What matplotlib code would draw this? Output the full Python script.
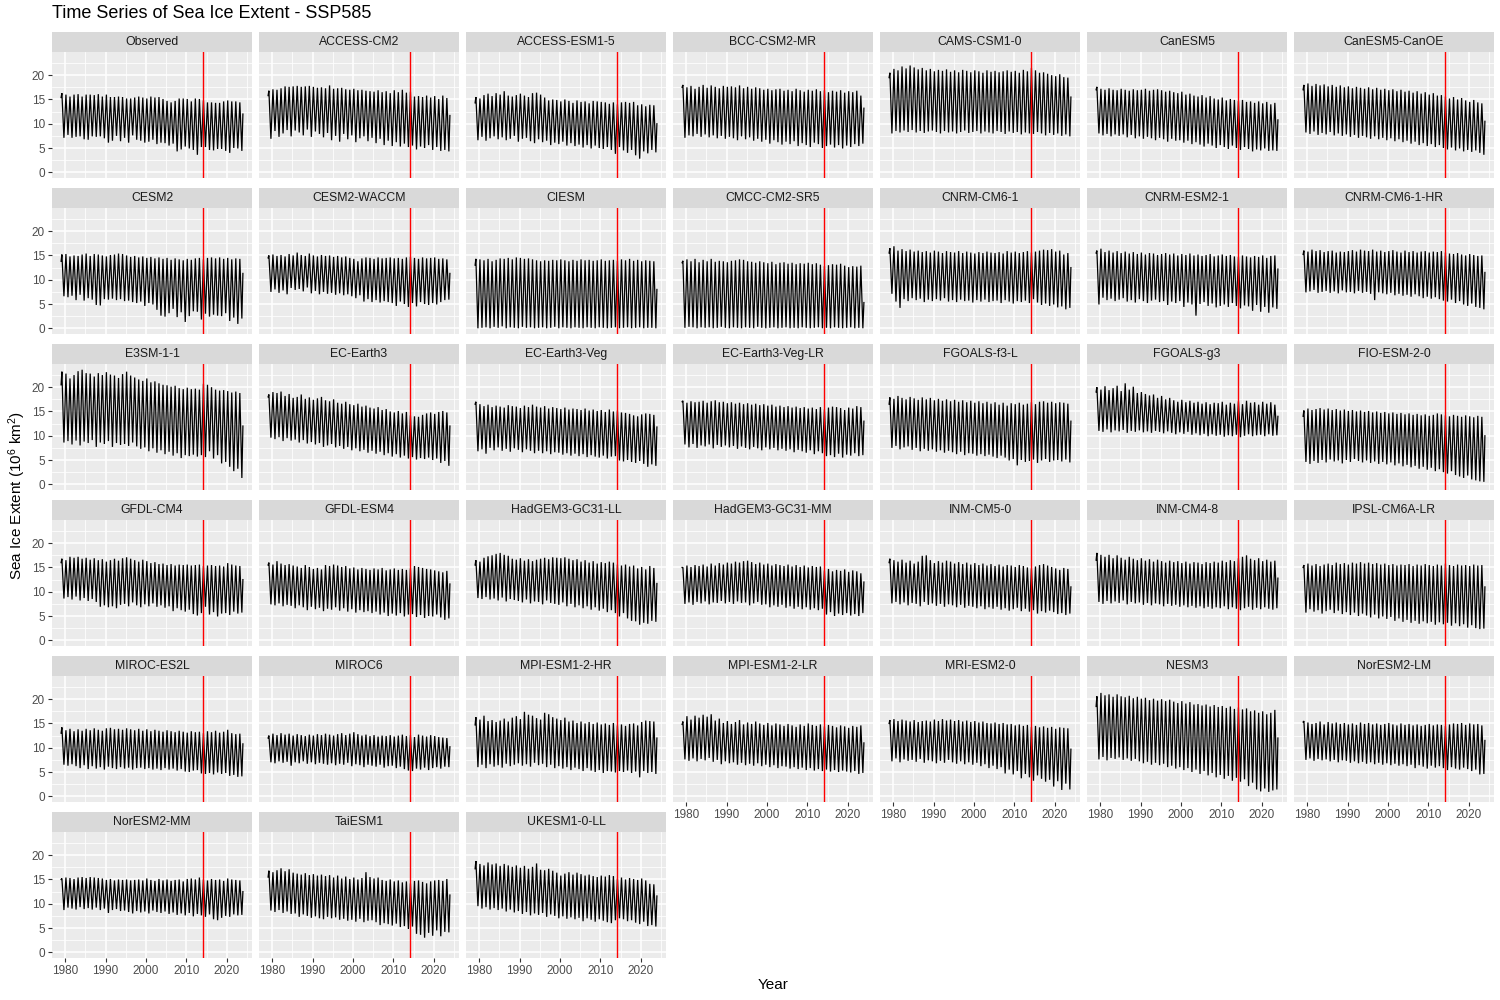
import matplotlib
matplotlib.use("Agg")
import matplotlib.pyplot as plt

plt.rcParams['font.family'] = ['Liberation Sans', 'DejaVu Sans']
plt.rcParams['mathtext.fontset'] = 'custom'
plt.rcParams['mathtext.rm'] = 'Liberation Sans'
plt.rcParams['mathtext.it'] = 'Liberation Sans:italic'

TITLE = "Time Series of Sea Ice Extent - SSP585"
YEARS = list(range(1979, 2024))
VLINE_YEAR = 2014
X_TICKS = [1980, 1990, 2000, 2010, 2020]
Y_TICKS = [0, 5, 10, 15, 20]

MODELS = ["Observed", "ACCESS-CM2", "ACCESS-ESM1-5", "BCC-CSM2-MR", "CAMS-CSM1-0", "CanESM5", "CanESM5-CanOE",
          "CESM2", "CESM2-WACCM", "CIESM", "CMCC-CM2-SR5", "CNRM-CM6-1", "CNRM-ESM2-1", "CNRM-CM6-1-HR",
          "E3SM-1-1", "EC-Earth3", "EC-Earth3-Veg", "EC-Earth3-Veg-LR", "FGOALS-f3-L", "FGOALS-g3", "FIO-ESM-2-0",
          "GFDL-CM4", "GFDL-ESM4", "HadGEM3-GC31-LL", "HadGEM3-GC31-MM", "INM-CM5-0", "INM-CM4-8", "IPSL-CM6A-LR",
          "MIROC-ES2L", "MIROC6", "MPI-ESM1-2-HR", "MPI-ESM1-2-LR", "MRI-ESM2-0", "NESM3", "NorESM2-LM",
          "NorESM2-MM", "TaiESM1", "UKESM1-0-LL"]

# January 1979 value and December 2023 value of each series
STARTS = [15.4, 15.8, 14.3, 17.5, 19.5, 17.0, 17.0, 13.8, 14.5, 13.0, 13.5, 15.5, 15.5, 15.2, 20.5, 18.0, 16.5,
          17.0, 16.5, 19.0, 14.0, 16.0, 15.5, 15.5, 15.0, 16.0, 16.5, 15.0, 13.0, 12.0, 14.7, 14.8, 15.0, 18.5,
          15.3, 15.0, 15.5, 17.2]
ENDS = [12.0, 11.7, 10.0, 13.2, 15.5, 10.8, 10.5, 11.3, 11.3, 8.0, 5.3, 12.5, 12.2, 11.5, 12.0, 12.0, 11.8,
        13.0, 13.0, 14.0, 10.0, 12.5, 11.6, 11.7, 12.0, 11.0, 12.8, 11.0, 10.8, 10.2, 12.0, 11.0, 9.7, 12.0,
        11.5, 12.5, 11.8, 11.6]

# Annual maxima (March) and minima (September), 1979-2023
OBS_MAX = [16.3,16.0,15.6,16.0,16.1, 15.6,16.0,16.0,15.9,16.1, 15.6,16.0,15.5,15.5,15.6, 15.5,15.2,15.2,15.4,15.6, 15.4,15.2,15.6,15.4,15.5, 15.1,14.7,14.4,14.7,15.2, 15.2,15.1,14.6,15.2,15.1, 14.8,14.4,14.4,14.3,14.3, 14.6,14.8,14.6,14.6,14.4]
OBS_MIN = [7.1,7.7,7.1,7.3,7.4, 6.8,6.7,7.4,7.3,7.4, 7.0,6.1,6.5,7.5,6.4, 7.1,6.1,7.6,6.7,6.5, 6.1,6.3,6.7,5.8,6.1, 6.0,5.5,5.9,4.3,4.7, 5.3,4.9,4.6,3.6,5.2, 5.2,4.6,4.5,4.8,4.8, 4.4,4.0,5.0,4.9,4.4]
ACC_CM2_MAX = [16.8,17.1,17.0,17.3,17.7, 17.6,17.7,17.8,17.6,17.7, 17.8,17.6,17.4,17.5,17.3, 17.9,17.2,17.3,17.4,17.1, 17.0,17.2,16.9,17.0,16.8, 16.7,16.6,16.9,16.5,16.7, 16.3,16.9,16.5,17.0,16.4, 16.6,15.6,15.7,15.5,15.8, 15.4,15.7,15.1,15.8,15.3]
ACC_CM2_MIN = [6.9,8.5,7.3,8.0,8.7, 7.4,8.6,8.2,7.6,8.8, 7.3,8.4,7.9,7.2,8.1, 6.6,7.5,6.3,7.9,6.8, 7.6,6.2,7.0,7.4,6.4, 7.1,6.0,6.9,5.6,6.5, 5.4,6.2,5.3,5.9,5.2, 5.5,4.7,5.3,5.0,5.6, 4.6,5.2,4.4,4.6,4.3]
ACC_ESM_MAX = [15.5,15.2,15.9,16.2,15.7, 16.3,16.0,16.7,15.8,15.6, 15.9,16.2,15.8,15.5,16.3, 16.4,16.0,15.4,14.8,15.0, 14.9,14.6,15.0,14.7,14.3, 14.8,14.5,14.6,14.2,14.7, 14.6,14.5,14.4,14.1,14.4, 14.0,14.4,14.5,14.3,14.5, 13.8,14.0,13.6,13.9,13.8]
ACC_ESM_MIN = [6.6,7.3,6.5,7.0,7.4, 6.8,7.2,6.6,6.9,7.5, 6.3,6.9,7.1,6.4,6.0, 6.8,6.2,6.5,5.6,6.1, 5.8,6.3,5.5,6.0,5.4, 5.7,5.1,5.6,4.9,5.5, 5.0,4.8,5.2,4.6,3.8, 5.2,4.5,4.0,4.6,3.5, 2.8,4.3,3.9,4.6,4.1]
BCC_MAX = [18.0,17.5,17.8,17.2,17.6, 18.0,17.4,17.9,17.6,17.3, 17.8,17.6,17.7,17.5,17.9, 17.3,17.6,17.2,17.5,17.3, 17.0,17.2,16.9,17.1,17.2, 16.8,17.0,16.7,17.2,16.9, 16.6,17.0,16.8,17.1,16.7, 16.9,16.5,16.8,16.6,16.9, 16.4,16.7,16.5,16.8,15.8]
BCC_MIN = [7.1,7.6,7.4,7.9,7.3, 7.8,7.2,7.6,7.0,7.5, 6.9,7.3,7.0,6.6,7.4, 6.8,7.2,6.5,6.9,6.3, 6.7,5.9,6.6,6.2,5.7, 6.3,5.8,6.4,5.4,6.0, 5.6,5.2,6.1,5.8,5.0, 5.4,5.7,5.1,5.6,4.9, 5.5,5.2,5.8,5.4,5.9]
CAMS_MAX = [20.5,21.3,21.0,21.8,21.4, 22.0,21.6,21.2,21.5,21.0, 21.3,20.8,21.1,20.9,21.2, 20.7,21.0,20.6,21.1,20.9, 20.6,21.0,20.8,20.5,21.0, 20.7,20.9,20.6,20.8,21.0, 20.7,20.9,20.5,21.1,20.8, 21.5,21.0,20.5,20.6,20.3, 20.0,19.8,20.2,19.6,19.5]
CAMS_MIN = [8.0,8.5,8.2,8.6,8.3, 8.7,8.2,8.5,8.1,8.4, 8.6,8.3,8.0,8.5,8.2, 8.4,8.0,8.3,8.6,8.1, 8.3,8.5,8.0,8.4,8.2, 8.0,8.5,8.3,7.9,8.4, 8.1,8.3,7.8,8.2,8.0, 7.9,8.3,8.0,7.6,8.1, 7.7,8.0,7.5,7.8,7.4]
CANESM5_MAX = [17.6,17.2,17.0,17.3,17.0, 16.9,17.2,17.0,16.8,17.1, 16.9,17.0,17.2,16.8,17.0, 17.1,16.9,16.6,16.8,16.5, 16.3,16.6,16.0,16.2,15.8, 15.6,15.9,15.4,15.7,15.2, 15.0,15.4,14.8,15.1,14.9, 14.7,14.9,14.5,14.6,14.3, 14.6,14.2,14.5,14.0,14.3]
CANESM5_MIN = [8.0,7.6,7.9,7.4,7.8, 7.5,7.8,7.2,7.7,7.0, 7.4,6.9,7.3,7.0,6.6, 7.1,6.8,6.3,6.9,6.5, 6.6,6.1,6.5,5.8,6.2, 5.7,5.3,5.9,5.5,5.0, 5.6,5.2,4.8,5.5,5.0, 4.6,5.2,4.8,4.3,4.7, 4.5,4.9,4.4,4.5,4.4]
CANOE_MAX = [18.0,18.3,17.8,18.2,17.9, 18.1,17.7,18.0,17.6,17.9, 17.5,17.7,17.3,17.6,17.4, 17.2,17.5,17.1,17.4,17.0, 17.2,16.9,17.1,16.7,17.0, 16.6,16.8,16.4,16.7,16.2, 16.5,16.0,16.3,15.8,15.9, 15.6,15.2,15.5,15.0,15.3, 14.8,14.5,14.9,14.4,14.2]
CANOE_MIN = [8.2,7.9,8.4,7.7,8.1, 7.8,8.3,7.6,8.0,7.5, 7.8,7.3,7.7,7.1,7.5, 7.2,6.9,7.4,6.8,7.1, 6.6,7.0,6.4,6.8,6.2, 6.5,5.9,6.3,5.6,6.0, 5.4,5.8,5.2,5.6,5.0, 4.7,5.1,4.5,4.9,4.3, 4.6,4.2,4.5,4.0,3.6]
CESM2_MAX = [15.2,15.3,14.8,15.0,14.9, 15.2,15.4,14.9,15.3,15.2, 15.0,14.8,15.1,15.2,15.4, 15.3,15.0,14.7,14.9,14.6, 14.8,14.5,14.7,14.4,14.6, 14.3,14.5,14.1,14.4,14.2, 14.0,14.3,14.1,14.4,14.5, 14.2,14.5,14.6,14.4,14.6, 14.3,14.5,14.2,14.4,14.3]
CESM2_MIN = [6.6,6.4,6.7,5.8,6.9, 5.7,6.2,5.9,4.8,4.7, 6.0,5.9,6.1,5.8,6.0, 5.6,5.7,5.4,5.2,5.5, 4.6,5.2,4.9,3.8,2.6, 2.4,3.1,4.0,2.3,3.3, 1.3,2.5,3.5,3.4,1.8, 3.0,2.4,2.8,2.6,2.5, 3.1,1.5,2.2,0.9,2.0]
CESM2W_MAX = [15.0,15.2,14.9,15.1,14.8, 15.3,15.0,15.6,15.1,14.9, 15.4,15.0,14.8,15.1,14.9, 15.0,14.7,14.9,14.6,14.8, 14.5,14.3,13.8,14.4,14.6, 14.5,14.3,14.6,14.4,14.5, 14.6,14.4,14.5,14.3,14.6, 14.7,14.5,14.3,14.6,14.4, 14.5,14.6,14.3,14.4,14.2]
CESM2W_MIN = [7.5,8.0,7.3,7.8,7.0, 8.3,7.9,8.1,7.6,8.4, 7.2,7.7,7.0,7.5,7.1, 7.3,6.9,7.2,6.8,7.0, 6.6,6.2,6.8,5.5,6.0, 5.4,5.8,5.3,5.6,5.4, 5.2,4.6,5.5,5.0,4.4, 5.2,4.5,5.4,5.0,4.8, 5.2,4.9,5.4,5.8,5.9]
CIESM_MAX = [14.3,14.2,14.0,14.3,13.8, 14.1,14.4,14.3,14.5,14.2, 14.6,14.5,14.3,14.4,14.2, 14.0,13.8,14.0,13.9,14.1, 14.0,14.2,14.0,13.8,14.1, 13.9,14.2,14.0,14.1,13.9, 14.0,14.2,13.9,14.0,14.1, 13.9,14.2,14.0,14.3,13.9, 14.1,13.8,14.0,13.9,13.8]
CIESM_MIN = [0.0,0.1,0.2,0.0,0.3, 0.1,0.4,0.0,0.2,0.1, 0.0,0.3,0.1,0.2,0.0, 0.1,0.2,0.0,0.1,0.3, 0.0,0.2,0.1,0.0,0.2, 0.1,0.0,0.2,0.1,0.0, 0.2,0.1,0.0,0.1,0.2, 0.0,0.1,0.2,0.0,0.1, 0.2,0.0,0.1,0.1,0.0]
CMCC_MAX = [13.9,14.2,13.8,14.3,13.6, 14.1,13.8,14.3,13.7,13.9, 13.8,13.6,13.9,14.0,14.2, 14.1,13.8,13.7,13.5,13.8, 13.6,13.4,13.7,13.2,13.5, 13.6,13.3,13.5,13.2,13.4, 13.3,13.5,13.2,13.4,13.1, 12.8,13.0,13.2,13.1,13.3, 12.9,12.6,12.8,12.7,12.9]
CMCC_MIN = [0.1,0.3,0.2,0.0,0.2, 0.1,0.2,0.0,0.1,0.3, 0.1,0.0,0.2,0.1,0.0, 0.2,0.1,0.0,0.3,0.1, 0.0,0.1,0.2,0.0,0.1, 0.2,0.0,0.1,0.0,0.2, 0.1,0.0,0.1,0.2,0.0, 0.1,0.0,0.2,0.1,0.0, 0.1,0.2,0.0,0.1,0.0]
CNRM_CM6_MAX = [16.5,16.9,16.0,16.3,15.9, 16.2,15.8,16.0,15.7,15.9, 15.6,16.0,15.8,15.5,15.9, 15.7,15.6,15.9,15.5,15.8, 15.6,15.4,15.7,15.5,15.8, 15.6,15.5,15.7,15.4,15.9, 15.6,15.8,15.5,15.7,15.9, 15.6,15.8,16.0,16.2,16.1, 16.3,15.8,16.0,15.2,15.5]
CNRM_CM6_MIN = [7.1,5.5,4.2,6.0,5.6, 6.2,5.8,6.1,5.4,5.9, 5.6,6.0,5.7,6.2,5.5, 5.8,5.4,5.9,5.6,5.7, 5.3,5.8,5.5,5.9,5.4, 5.6,5.7,5.2,5.8,5.5, 5.1,5.6,5.4,5.7,5.2, 6.0,5.3,4.8,5.1,4.6, 4.9,4.3,4.5,3.9,4.2]
CNRM_ESM_MAX = [16.0,16.4,15.7,16.0,15.6, 15.9,15.5,15.8,15.4,15.7, 15.3,15.6,15.2,15.5,15.4, 15.1,15.3,15.5,15.2,15.4, 15.0,15.3,15.1,15.4,15.0, 15.2,14.9,15.1,15.3,14.8, 15.0,15.2,14.9,15.1,14.8, 14.7,15.0,14.8,14.6,14.9, 14.7,15.0,14.5,14.9,15.0]
CNRM_ESM_MIN = [4.9,6.3,5.8,6.1,5.6, 5.9,6.2,5.5,5.8,5.3, 6.0,5.6,5.2,5.7,5.9, 5.4,5.6,4.8,5.5,5.2, 5.6,4.4,5.3,4.9,2.6, 5.0,5.4,4.6,5.1,4.3, 4.6,4.9,4.4,5.2,4.6, 4.1,4.7,4.5,3.6,4.8, 3.4,4.4,3.2,4.3,4.0]
CNRM_HR_MAX = [16.0,15.8,16.2,15.9,16.1, 15.7,15.9,16.0,15.6,15.8, 15.7,15.9,16.1,15.8,16.2, 16.0,15.9,16.2,15.8,16.0, 15.7,15.9,16.1,15.8,15.6, 16.0,15.7,15.9,15.6,15.8, 15.9,15.6,15.8,15.7,15.9, 15.6,15.4,15.3,15.5,15.2, 15.0,15.3,15.1,14.9,15.0]
CNRM_HR_MIN = [7.4,7.6,7.9,7.3,7.5, 7.7,7.3,7.6,7.2,7.8, 7.4,7.5,7.2,7.7,7.3, 7.5,7.1,5.8,7.4,7.2, 7.0,7.3,6.8,7.1,6.7, 6.9,6.5,7.0,6.6,6.2, 6.5,6.1,6.4,6.0,5.7, 5.5,5.9,5.2,5.6,4.9, 4.6,5.1,4.4,4.2,3.9]
E3SM_MAX = [23.2,22.8,21.8,22.5,23.3, 23.6,22.9,22.8,22.2,22.9, 22.5,23.1,22.6,22.4,21.9, 22.7,23.2,22.4,22.0,21.6, 21.3,21.8,21.0,21.2,20.8, 20.5,20.4,20.1,20.3,19.8, 19.6,19.9,19.6,19.7,19.5, 20.7,20.5,20.0,19.5,19.3, 19.4,19.2,18.9,19.1,18.8]
E3SM_MIN = [8.6,8.9,8.2,9.0,8.0, 8.8,8.5,9.1,7.7,8.6, 8.3,8.9,7.7,8.5,8.1, 8.3,7.9,8.6,7.8,7.3, 7.6,6.8,7.4,6.5,7.0, 6.2,6.7,5.9,6.4,5.4, 6.0,5.8,6.1,5.7,6.0, 5.6,6.8,5.3,6.0,4.3, 4.6,3.6,2.7,3.2,1.3]
ECE3_MAX = [18.5,19.0,18.8,19.1,18.2, 18.6,17.8,18.0,18.5,17.6, 17.9,17.4,17.7,18.0,17.3, 17.1,17.5,16.8,16.6,17.0, 16.5,16.3,16.6,16.0,16.2, 15.8,15.6,15.9,15.3,15.5, 15.0,14.8,15.1,14.6,14.9, 14.2,14.0,13.9,14.3,14.6, 14.8,14.5,14.9,15.1,14.8]
ECE3_MIN = [9.6,9.3,9.7,8.9,9.5, 9.0,9.2,8.6,9.1,8.4, 8.7,8.2,8.5,7.7,8.0, 8.3,7.6,7.9,7.3,7.7, 7.0,7.4,6.8,7.1,6.5, 6.9,6.3,6.7,6.0,6.4, 5.7,6.2,5.5,5.9,5.3, 5.6,5.1,5.4,5.2,5.5, 5.0,5.3,4.4,4.8,3.8]
ECV_MAX = [17.0,16.5,16.1,16.4,15.9, 16.2,16.0,15.8,16.3,16.1, 16.0,15.7,16.2,15.9,16.4, 16.0,15.8,16.1,15.6,15.9, 15.7,15.5,15.8,15.4,15.6, 15.5,15.3,15.6,15.2,15.4, 15.1,15.3,14.9,15.4,15.0, 15.2,14.8,14.7,14.5,14.2, 14.0,14.4,14.6,14.5,14.3]
ECV_MIN = [6.8,7.2,6.3,7.5,7.0, 7.6,6.9,7.3,6.7,7.4, 7.1,6.6,7.2,6.9,6.4, 6.9,6.4,6.8,6.2,6.6, 6.5,6.1,6.4,5.9,6.3, 5.8,6.2,5.6,6.0,5.7, 5.5,5.9,5.3,5.7,5.8, 4.9,4.7,5.0,4.6,4.4, 4.8,4.2,3.6,4.1,3.8]
ECVLR_MAX = [17.2,16.8,17.1,16.9,17.0, 17.2,16.8,17.1,17.3,16.9, 17.0,16.7,16.9,16.6,16.8, 16.5,16.7,16.4,16.6,16.3, 16.5,16.2,16.4,16.0,16.2, 15.9,16.1,15.8,16.0,15.7, 15.9,15.6,15.8,15.5,15.9, 15.4,15.8,16.0,15.9,15.7, 15.3,15.8,15.6,16.1,15.9]
ECVLR_MIN = [8.2,7.6,8.3,7.5,8.0, 7.8,8.2,7.4,8.1,7.7, 8.0,7.6,7.9,7.3,7.8, 7.5,7.2,7.7,7.4,7.0, 7.6,7.2,7.5,7.0,7.3, 6.9,7.2,6.6,7.1,6.8, 6.5,7.0,6.2,6.8,6.4, 5.8,6.0,5.6,6.3,5.5, 6.1,5.9,6.4,5.8,6.0]
FGF3_MAX = [17.9,17.6,18.2,17.8,17.5, 18.0,17.7,17.4,17.9,17.5, 17.8,17.3,17.6,17.2,17.5, 17.1,17.4,17.0,17.3,16.9, 17.2,16.8,17.1,16.7,17.0, 16.6,16.9,16.4,16.8,16.2, 16.7,16.5,16.8,16.4,16.6, 16.9,16.5,17.0,17.1,16.8, 17.0,16.7,16.9,16.8,16.6]
FGF3_MIN = [7.5,7.9,7.2,7.6,7.8, 7.1,7.5,6.8,7.3,6.9, 7.2,6.7,7.0,6.5,6.9, 6.6,6.2,6.7,6.0,6.4, 6.3,5.9,6.2,5.8,6.1, 5.7,5.4,5.9,5.5,4.9, 5.2,3.9,5.0,4.6,4.8, 5.1,4.4,4.9,5.2,4.6, 4.9,5.0,4.7,5.1,4.5]
FGG3_MAX = [20.0,19.5,20.2,19.4,19.8, 20.3,19.2,20.8,19.5,20.1, 18.8,19.0,18.6,18.3,18.5, 17.8,18.2,17.5,17.8,17.3, 17.0,17.4,16.9,17.2,16.8, 17.0,16.6,16.9,16.5,16.8, 16.7,17.0,16.4,16.8,16.6, 17.1,16.5,17.2,16.8,16.9, 16.4,17.0,16.6,16.9,16.4]
FGG3_MIN = [11.0,10.8,11.3,10.7,11.1, 10.9,11.2,10.6,11.0,10.8, 11.1,10.7,10.9,10.6,11.0, 10.8,10.5,10.9,10.6,10.3, 10.7,10.4,10.8,10.2,10.5, 10.1,10.4,9.9,10.3,10.0, 10.2,9.8,10.1,9.9,10.2, 9.7,10.0,10.3,9.9,10.1, 10.2,9.9,10.3,10.0,10.1]
FIO_MAX = [15.2,15.6,15.3,15.5,15.7, 15.4,15.6,15.3,15.5,15.2, 15.4,15.1,15.3,15.0,15.2, 14.9,15.1,14.8,15.0,14.7, 14.9,14.6,14.8,14.5,14.7, 14.4,14.6,14.3,14.5,14.2, 14.4,14.1,14.3,14.6,14.4, 14.2,14.0,14.3,14.1,13.9, 14.2,14.0,13.8,14.1,13.9]
FIO_MIN = [4.6,4.2,4.8,4.4,5.0, 4.5,5.1,4.7,4.9,4.3, 5.0,4.6,5.2,4.8,4.5, 4.9,4.4,4.7,4.2,4.6, 4.1,4.5,3.9,4.3,3.7, 4.0,3.5,3.8,3.2,3.6, 3.0,3.4,2.7,3.1,2.5, 2.2,2.7,1.9,1.6,1.3, 1.8,1.0,0.8,0.6,0.5]
GFDLCM4_MAX = [16.8,16.5,17.2,17.0,17.2, 16.8,17.0,16.6,16.9,16.5, 16.7,16.2,16.5,16.8,16.4, 16.9,17.1,16.8,16.5,16.2, 16.6,16.3,15.9,16.1,15.7, 15.8,15.5,15.7,15.4,15.6, 15.5,15.6,15.4,15.5,15.6, 15.3,15.4,15.5,15.3,15.4, 15.2,15.9,15.6,15.4,15.3]
GFDLCM4_MIN = [8.6,8.9,8.4,9.0,8.2, 8.7,8.1,8.5,7.9,6.9, 7.2,6.8,7.0,6.6,7.3, 7.5,7.0,7.8,7.2,6.8, 7.4,7.0,7.6,6.9,7.2, 6.7,7.0,6.0,6.6,6.2, 5.9,6.3,5.4,5.1,5.6, 6.9,5.3,5.8,4.9,5.5, 5.6,5.2,5.9,5.5,5.7]
GFDLESM4_MAX = [16.0,15.6,16.3,15.8,15.5, 15.7,15.4,15.2,14.9,15.5, 15.1,14.7,14.9,14.6,15.5, 15.3,15.6,15.4,15.1,15.3, 14.8,15.0,14.6,14.9,14.7, 14.5,14.8,14.6,14.9,14.4, 14.6,14.8,14.5,14.7,14.5, 14.8,15.3,15.1,14.9,14.7, 14.6,14.4,14.2,14.0,14.3]
GFDLESM4_MIN = [7.4,7.2,7.6,7.0,7.3, 7.1,6.6,7.2,6.8,6.2, 6.9,6.4,6.7,6.0,6.5, 6.3,6.8,6.1,6.6,5.9, 6.4,5.7,6.2,5.8,6.0, 5.6,5.9,5.3,5.7,5.0, 5.5,5.1,5.6,4.9,5.3, 5.4,4.8,5.2,4.6,5.0, 4.9,5.3,4.7,4.2,4.5]
HGLL_MAX = [16.5,16.2,17.0,17.3,17.5, 17.8,18.0,17.6,17.4,16.8, 16.6,16.9,16.4,16.7,16.3, 16.6,16.8,17.0,16.7,17.1, 17.0,16.9,17.1,16.8,16.5, 16.7,16.2,16.5,16.0,16.3, 15.8,16.1,15.9,16.2,16.0, 15.6,15.4,15.6,15.2,15.4, 14.8,15.1,14.6,15.3,14.9]
HGLL_MIN = [8.7,8.5,8.9,8.4,8.6, 8.2,8.8,8.0,8.5,8.3, 8.1,7.8,8.4,7.6,8.0, 7.9,7.4,8.2,7.7,7.5, 7.3,7.8,7.0,7.5,6.8, 7.2,6.6,7.0,6.3,6.8, 6.1,6.5,5.8,6.2,5.6, 4.9,5.6,4.5,4.0,3.9, 3.2,3.6,3.4,4.0,3.8]
HGMM_MAX = [15.0,15.4,15.1,15.5,15.3, 15.6,15.2,15.8,15.4,15.9, 15.6,16.0,15.8,16.2,16.0, 16.3,16.4,16.1,15.7,16.0, 15.6,15.8,15.4,15.7,15.5, 15.3,15.6,15.2,15.5,15.1, 15.4,15.0,15.3,15.1,15.2, 14.4,14.7,14.2,14.5,14.3, 14.6,14.1,14.4,14.2,13.8]
HGMM_MIN = [7.5,7.8,7.3,7.9,7.6, 8.0,7.4,7.8,7.7,8.1, 7.6,7.9,7.5,8.0,7.7, 7.8,7.2,7.6,7.9,7.3, 7.4,6.8,7.2,6.9,7.3, 6.7,7.0,6.5,6.9,6.4, 6.8,6.3,6.6,6.2,6.5, 5.3,5.8,5.0,5.5,5.2, 5.6,5.1,5.4,5.0,5.6]
INMCM5_MAX = [16.8,16.5,16.2,16.6,16.0, 16.4,15.8,16.2,17.4,17.5, 16.5,15.9,16.3,16.0,16.4, 16.2,15.8,16.1,15.7,16.0, 15.6,15.9,15.5,15.8,15.4, 15.7,15.3,15.6,15.2,15.5, 15.4,15.1,15.5,15.3,15.0, 14.8,15.2,15.5,15.7,15.4, 15.1,14.8,14.5,14.9,14.7]
INMCM5_MIN = [7.6,7.9,7.4,7.8,7.2, 7.7,7.5,7.0,7.9,7.3, 7.6,7.1,7.5,6.9,7.4, 7.2,6.8,7.3,6.7,7.1, 6.9,6.6,7.0,6.4,6.8, 6.5,6.9,6.3,6.6,6.1, 6.4,6.7,6.0,6.5,5.9, 6.2,5.5,6.0,5.7,6.1, 5.8,5.4,5.6,5.2,5.5]
INMCM48_MAX = [18.0,17.6,17.2,17.6,16.9, 17.5,17.0,16.6,17.2,16.8, 16.5,16.9,16.4,16.7,16.2, 16.6,16.3,16.0,16.4,16.1, 16.3,15.9,16.2,15.8,16.1, 16.0,15.7,16.1,15.9,16.2, 16.0,16.4,16.1,16.5,16.3, 16.9,17.2,17.5,16.8,16.5, 16.9,16.3,16.6,16.2,16.4]
INMCM48_MIN = [7.9,7.5,8.1,7.6,8.0, 7.7,8.2,7.4,7.9,7.6, 7.8,7.3,7.7,7.2,7.6, 7.4,7.0,7.5,7.1,7.3, 6.9,7.2,6.8,7.1,6.7, 7.0,6.6,6.9,6.5,6.8, 6.6,7.0,6.4,6.8,6.5, 6.2,6.6,6.9,6.3,6.7, 6.4,6.8,6.5,6.3,6.6]
IPSL_MAX = [15.5,15.8,15.4,15.7,15.3, 15.6,15.8,15.5,16.0,15.7, 15.9,15.6,16.0,15.8,16.1, 15.8,16.0,15.7,15.9,15.6, 15.8,15.5,15.7,15.4,15.6, 15.5,15.7,15.3,15.6,15.4, 15.7,15.5,15.3,15.6,15.4, 15.8,15.5,15.3,15.6,15.4, 15.5,15.3,15.6,15.4,15.5]
IPSL_MIN = [5.7,6.4,5.9,6.2,5.5, 6.0,6.3,5.6,6.1,5.4, 5.8,5.2,5.7,5.0,5.5, 5.1,4.7,5.3,4.5,4.9, 4.4,4.8,4.0,4.5,3.8, 4.2,3.6,4.0,3.4,3.9, 3.5,3.8,3.2,3.7,3.3, 3.6,3.0,3.5,2.9,3.3, 2.6,3.1,2.5,2.3,2.4]
MIROCES_MAX = [14.2,13.6,13.9,13.4,13.8, 13.5,13.9,13.6,14.0,13.7, 13.5,14.0,14.1,13.8,13.9, 13.7,14.0,13.8,13.6,13.9, 13.5,13.8,13.4,13.7,13.5, 13.3,13.6,13.4,13.2,13.5, 13.3,13.1,13.4,13.2,13.3, 13.0,13.4,13.2,13.5,13.1, 13.3,13.7,13.0,12.8,12.9]
MIROCES_MIN = [6.5,6.3,6.6,6.2,5.8, 6.4,5.6,6.2,5.7,6.0, 5.5,6.1,5.8,5.6,6.0, 5.7,5.9,5.5,5.8,5.9, 5.6,5.8,5.5,5.7,5.4, 5.8,5.5,5.7,5.3,5.6, 5.1,5.0,5.3,5.4,4.7, 4.6,4.8,4.5,4.9,4.6, 4.8,4.2,4.4,4.0,4.1]
MIROC6_MAX = [12.5,12.9,12.6,13.0,12.7, 12.9,12.5,12.8,12.6,12.4, 12.7,12.5,12.8,12.6,12.9, 12.7,12.5,12.8,13.0,12.6, 12.9,13.2,12.8,12.5,12.7, 12.4,12.6,12.3,12.5,12.4, 12.6,12.3,12.5,12.7,12.4, 12.6,12.2,12.7,12.5,12.3, 12.6,12.4,12.2,12.1,12.0]
MIROC6_MIN = [7.0,6.8,7.2,6.9,7.1, 6.3,7.0,6.8,7.2,6.7, 7.0,6.6,6.9,6.7,6.5, 6.8,6.4,6.7,6.5,6.9, 6.2,6.6,6.4,6.0,6.5, 6.3,6.1,6.5,5.9,6.2, 6.3,5.8,6.1,5.6,5.3, 5.2,5.7,5.5,5.9,5.4, 5.8,6.0,5.7,6.1,6.0]
MPIHR_MAX = [16.3,15.8,16.6,15.5,15.7, 15.3,15.6,16.0,15.4,16.2, 16.5,15.9,17.4,16.8,16.6, 16.1,15.8,17.2,16.9,16.3, 16.0,15.7,16.2,15.4,15.6, 15.1,15.4,15.0,15.3,14.9, 15.2,14.8,15.0,14.7,15.1, 14.6,14.8,14.5,14.9,15.0, 14.6,15.3,15.6,15.5,15.4]
MPIHR_MIN = [6.0,6.5,5.8,6.6,6.1, 6.4,5.9,6.7,6.2,6.5, 6.8,6.3,6.6,6.1,6.9, 6.4,6.7,6.0,6.5,5.8, 6.2,5.7,6.0,5.4,5.9, 5.6,5.2,5.8,5.3,5.0, 5.4,4.8,5.2,5.1,4.9, 5.2,5.0,5.3,4.8,5.1, 3.9,5.2,4.8,5.0,4.6]
MPILR_MAX = [15.4,16.5,15.8,16.6,16.2, 16.8,16.4,16.9,15.6,16.0, 15.1,15.5,14.9,15.3,15.7, 14.8,15.2,14.9,15.4,15.0, 14.7,15.1,14.6,15.0,14.8, 14.5,14.9,14.6,14.3,14.8, 14.5,15.0,14.7,14.5,14.8, 14.4,14.7,14.5,14.2,14.6, 14.4,14.1,14.5,14.3,14.6]
MPILR_MIN = [7.6,7.3,7.8,7.2,7.7, 7.4,7.9,7.1,7.5,6.6, 7.2,6.8,7.0,6.5,6.9, 6.4,6.7,6.3,6.8,6.2, 6.5,6.0,6.4,5.8,6.2, 6.1,5.7,6.0,5.6,5.9, 5.4,5.8,5.3,5.6,5.2, 5.5,5.1,5.4,5.0,5.3, 5.1,4.9,5.2,4.6,4.8]
MRI_MAX = [15.7,15.9,15.5,15.8,15.6, 15.4,15.7,15.3,15.5,15.6, 15.4,15.8,15.5,15.9,15.6, 15.8,15.5,15.7,15.4,15.6, 15.3,15.5,15.2,15.4,15.1, 15.0,15.2,14.9,15.1,14.8, 14.9,14.6,14.8,14.5,14.7, 14.3,14.5,14.2,14.4,14.1, 14.3,13.9,14.2,14.1,14.0]
MRI_MIN = [7.2,7.8,7.0,7.6,7.3, 7.5,7.1,7.7,6.9,7.4, 7.2,6.8,7.3,6.9,7.5, 7.0,6.7,7.2,6.6,7.0, 6.5,6.9,6.2,6.6,5.8, 6.3,5.6,6.0,4.7,5.5, 4.5,5.2,3.7,4.6,3.9, 3.2,4.3,3.6,3.0,3.4, 2.0,3.1,1.3,2.6,1.4]
NESM3_MAX = [20.6,21.3,20.8,21.0,20.5, 21.0,20.6,20.4,20.7,20.2, 20.5,20.1,20.3,19.8,20.1, 19.7,20.0,19.6,19.9,19.5, 19.2,19.6,19.1,19.4,18.9, 19.0,18.7,18.9,18.5,18.8, 18.4,18.6,18.2,18.5,18.0, 18.3,17.9,18.1,17.5,17.7, 17.2,17.5,16.9,17.2,17.8]
NESM3_MIN = [7.6,8.1,7.4,7.9,7.7, 8.0,7.5,7.8,7.3,7.7, 7.2,6.8,7.1,6.5,6.9, 6.4,6.7,6.0,6.3,5.7, 6.0,5.4,5.8,5.0,5.5, 4.6,5.2,4.3,4.8,3.9, 4.4,3.6,4.2,3.2,3.8, 3.0,3.5,2.1,2.8,1.4, 1.0,1.6,0.9,1.2,1.4]
NORLM_MAX = [15.5,15.2,14.9,15.1,15.4, 14.8,15.3,15.0,15.2,14.9, 15.1,14.8,15.0,14.7,15.2, 14.9,15.1,14.8,15.0,14.7, 14.9,15.1,14.8,14.6,15.0, 14.7,14.9,14.6,14.8,14.5, 14.7,14.9,14.6,14.8,14.7, 14.5,14.8,15.0,14.9,15.1, 14.7,15.0,14.8,14.9,14.6]
NORLM_MIN = [7.5,7.8,7.3,7.7,7.4, 7.6,7.2,7.5,7.0,7.4, 7.3,6.9,7.2,6.8,7.1, 6.7,7.0,6.6,6.9,6.5, 6.8,6.4,6.7,6.3,6.6, 6.2,6.5,5.8,6.4,6.1, 5.7,6.3,5.9,6.2,5.8, 5.4,6.0,5.7,5.5,5.9, 5.6,5.2,5.5,4.5,4.6]
NORMM_MAX = [15.2,15.4,15.3,15.1,15.4, 15.5,15.3,15.5,15.4,15.3, 15.2,14.9,15.1,14.8,15.0, 14.9,15.0,14.8,14.9,15.0, 14.8,15.2,14.9,14.7,15.1, 14.8,15.0,14.7,14.9,15.0, 14.6,15.1,15.2,15.0,15.4, 15.0,14.8,15.1,14.9,15.0, 14.7,15.2,15.0,14.9,14.8]
NORMM_MIN = [8.7,9.2,9.0,8.8,9.3, 8.9,9.1,8.8,9.2,8.7, 9.0,8.1,8.7,8.9,8.5, 8.6,8.3,8.0,8.5,8.2, 8.4,8.0,8.6,8.3,8.1, 8.4,7.9,8.2,7.7,8.0, 7.6,8.1,7.4,7.9,7.6, 7.3,7.8,6.8,6.6,7.1, 7.5,7.3,7.8,7.6,7.7]
TAI_MAX = [16.8,16.5,16.9,17.3,16.7, 17.1,16.4,16.2,16.0,16.3, 15.9,16.1,15.8,16.0,15.7, 15.9,15.4,15.8,15.2,15.6, 15.1,15.4,15.0,15.3,16.5, 15.5,15.2,15.4,14.9,14.7, 15.0,14.6,14.8,14.4,14.6, 14.2,14.7,14.8,14.5,14.2, 14.6,14.8,14.9,14.7,15.1]
TAI_MIN = [8.6,8.3,8.7,8.1,8.4, 7.9,8.0,7.3,7.8,7.5, 7.1,7.4,7.0,6.8,7.3, 7.0,7.2,6.7,6.9,6.5, 6.7,6.3,6.9,6.2,6.5, 6.6,6.2,5.6,6.0,5.8, 5.5,5.9,5.2,5.4,4.8, 5.3,3.8,3.6,3.0,4.0, 3.4,4.5,3.3,4.2,4.1]
UK_MAX = [18.8,18.2,17.9,18.5,18.1, 18.3,17.8,18.2,17.9,17.6, 17.9,17.4,17.8,17.2,17.6, 18.3,17.0,16.9,17.2,16.8, 16.4,15.8,16.2,16.5,16.0, 16.4,16.1,15.8,16.0,15.7, 15.5,15.8,15.6,15.9,15.7, 15.2,15.4,15.0,15.3,15.1, 14.9,15.2,14.8,14.1,14.0]
UK_MIN = [9.5,9.0,9.3,8.8,9.1, 8.7,9.0,8.4,8.8,8.2, 8.5,7.9,8.3,7.6,8.0, 7.7,8.1,7.3,7.8,7.5, 7.0,7.4,6.9,7.2,6.8, 7.1,6.4,7.0,6.7,6.3, 6.8,6.5,6.2,6.0,6.6, 7.0,6.8,6.4,6.6,6.1, 5.8,6.3,5.4,5.6,5.3]

SERIES_MAX = [OBS_MAX, ACC_CM2_MAX, ACC_ESM_MAX, BCC_MAX, CAMS_MAX, CANESM5_MAX, CANOE_MAX, CESM2_MAX,
              CESM2W_MAX, CIESM_MAX, CMCC_MAX, CNRM_CM6_MAX, CNRM_ESM_MAX, CNRM_HR_MAX, E3SM_MAX, ECE3_MAX,
              ECV_MAX, ECVLR_MAX, FGF3_MAX, FGG3_MAX, FIO_MAX, GFDLCM4_MAX, GFDLESM4_MAX, HGLL_MAX, HGMM_MAX,
              INMCM5_MAX, INMCM48_MAX, IPSL_MAX, MIROCES_MAX, MIROC6_MAX, MPIHR_MAX, MPILR_MAX, MRI_MAX,
              NESM3_MAX, NORLM_MAX, NORMM_MAX, TAI_MAX, UK_MAX]
SERIES_MIN = [OBS_MIN, ACC_CM2_MIN, ACC_ESM_MIN, BCC_MIN, CAMS_MIN, CANESM5_MIN, CANOE_MIN, CESM2_MIN,
              CESM2W_MIN, CIESM_MIN, CMCC_MIN, CNRM_CM6_MIN, CNRM_ESM_MIN, CNRM_HR_MIN, E3SM_MIN, ECE3_MIN,
              ECV_MIN, ECVLR_MIN, FGF3_MIN, FGG3_MIN, FIO_MIN, GFDLCM4_MIN, GFDLESM4_MIN, HGLL_MIN, HGMM_MIN,
              INMCM5_MIN, INMCM48_MIN, IPSL_MIN, MIROCES_MIN, MIROC6_MIN, MPIHR_MIN, MPILR_MIN, MRI_MIN,
              NESM3_MIN, NORLM_MIN, NORMM_MIN, TAI_MIN, UK_MIN]


def build_series(i):
    mx, mn = SERIES_MAX[i], SERIES_MIN[i]
    n = min(len(YEARS), len(mx), len(mn))
    xs, ys = [YEARS[0] + 0.0], [STARTS[i]]
    for k in range(n):
        xs += [YEARS[k] + 0.2, YEARS[k] + 0.7]
        ys += [mx[k], mn[k]]
    xs.append(YEARS[n - 1] + 0.96)
    ys.append(ENDS[i])
    return xs, ys


all_series = [build_series(i) for i in range(len(MODELS))]
x_lo = min(s[0][0] for s in all_series)
x_hi = max(s[0][-1] for s in all_series)
y_lo = min(min(s[1]) for s in all_series)
y_hi = max(max(s[1]) for s in all_series)
xr, yr = x_hi - x_lo, y_hi - y_lo
XLIM = (x_lo - 0.05 * xr, x_hi + 0.05 * xr)
YLIM = (y_lo - 0.05 * yr, y_hi + 0.05 * yr)

W, H = 1500, 1000
fig = plt.figure(figsize=(15, 10), dpi=100)
fig.patch.set_facecolor('white')

NCOL = 7
COL_L = [52, 259, 466, 673, 880, 1087, 1294]
PW = 200
STRIP_TOP = [32, 188, 344, 500, 656, 812]
STRIP_H = 20
PH = 126

for i, name in enumerate(MODELS):
    r, c = divmod(i, NCOL)
    left = COL_L[c]
    st = STRIP_TOP[r]
    # strip
    sax = fig.add_axes([left / W, 1 - (st + STRIP_H) / H, PW / W, STRIP_H / H])
    sax.set_facecolor('#D9D9D9')
    sax.set_xticks([]); sax.set_yticks([])
    for sp in sax.spines.values():
        sp.set_visible(False)
    sax.text(0.5, 0.5, name, ha='center', va='center', fontsize=8.8, color='#1A1A1A',
             transform=sax.transAxes)
    # panel
    ptop = st + STRIP_H
    ax = fig.add_axes([left / W, 1 - (ptop + PH) / H, PW / W, PH / H])
    ax.set_facecolor('#EBEBEB')
    for sp in ax.spines.values():
        sp.set_visible(False)
    ax.set_xlim(*XLIM)
    ax.set_ylim(*YLIM)
    ax.set_xticks(X_TICKS)
    ax.set_xticks([t + 5 for t in X_TICKS], minor=True)
    ax.set_yticks(Y_TICKS)
    ax.set_yticks([t + 2.5 for t in Y_TICKS], minor=True)
    ax.grid(which='major', color='white', lw=1.1)
    ax.grid(which='minor', color='white', lw=0.55)
    ax.set_axisbelow(True)
    ax.tick_params(which='minor', length=0)
    ax.tick_params(which='major', length=3, width=0.8, color='#333333',
                   labelsize=8.5, labelcolor='#4D4D4D', pad=2)
    has_x = i + NCOL >= len(MODELS)
    has_y = c == 0
    ax.tick_params(axis='x', bottom=has_x, labelbottom=has_x)
    ax.tick_params(axis='y', left=has_y, labelleft=has_y)
    xs, ys = all_series[i]
    ax.plot(xs, ys, color='black', lw=0.9, solid_joinstyle='miter')
    ax.axvline(VLINE_YEAR, color='red', lw=1.0)

fig.text(52 / W, 1 - 14 / H, TITLE, fontsize=13, ha='left', va='center', color='black')
fig.text(773 / W, 1 - 985 / H, "Year", fontsize=11, ha='center', va='center', color='black')
fig.text(17 / W, 1 - 495 / H, r'Sea Ice Extent ($\mathregular{10^6}$ km$\mathregular{^2}$)', fontsize=11,
         ha='center', va='center', rotation=90, color='black')

fig.savefig('out.png', dpi=100, facecolor='white')
